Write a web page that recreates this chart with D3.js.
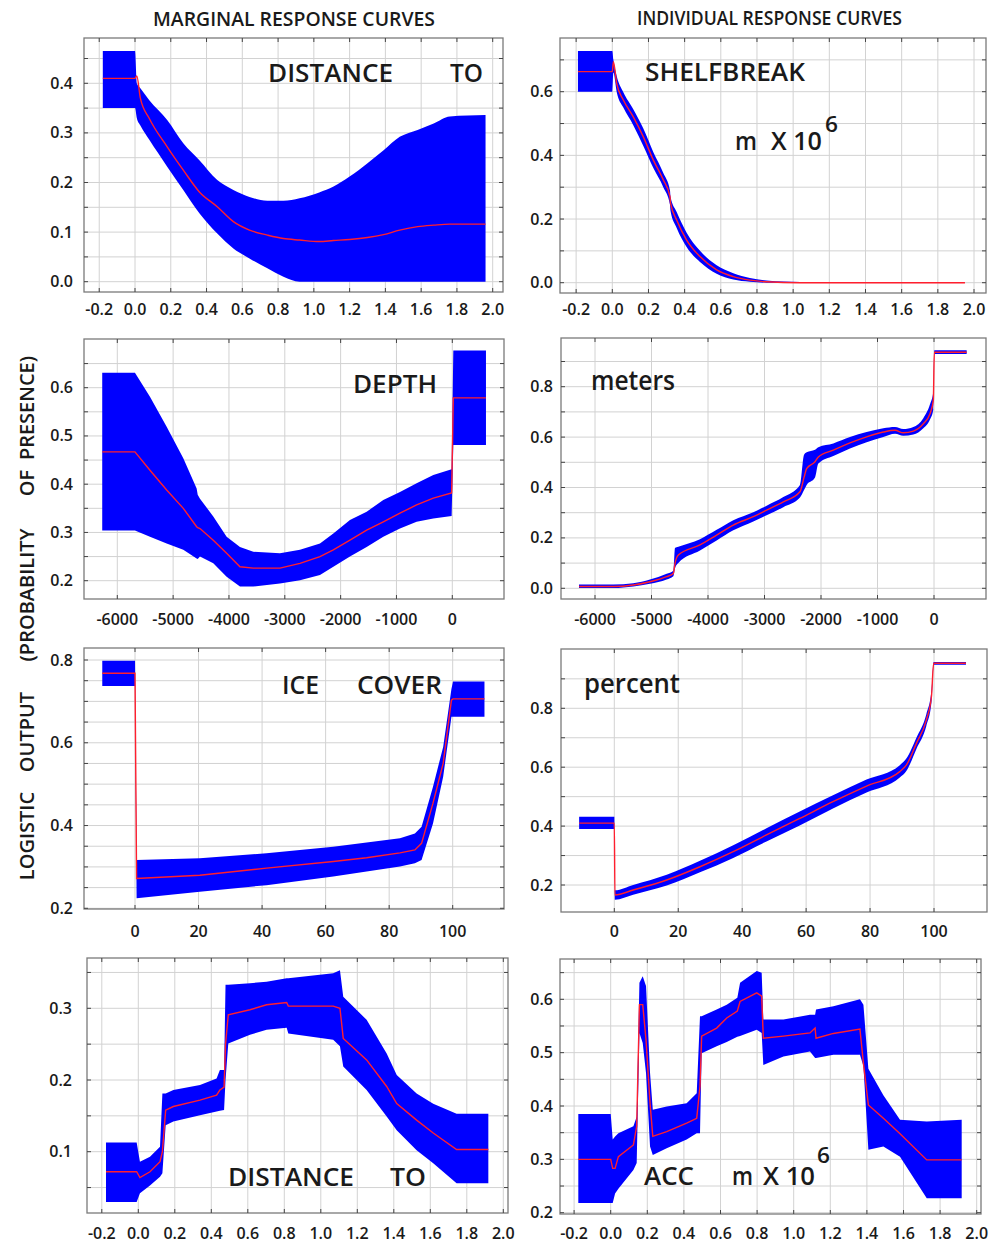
<!DOCTYPE html>
<html>
<head>
<meta charset="utf-8">
<script src="https://d3js.org/d3.v7.min.js"></script>
<style>
  body { margin: 0; background: #fff; }
  svg text { font-family: 'Open Sans', 'DejaVu Sans', sans-serif; font-weight: 600; fill: #1a1a1a; }
</style>
</head>
<body>
<svg id="chart" width="1004" height="1246"></svg>
<script>
// tick values
const distTicks = [-0.2, 0.0, 0.2, 0.4, 0.6, 0.8, 1.0, 1.2, 1.4, 1.6, 1.8, 2.0];
const depthTicks = [-6000, -5000, -4000, -3000, -2000, -1000, 0];
const iceTicks = [0, 20, 40, 60, 80, 100];

// marginal response, distance to shelfbreak
const shelfMargX = [-0.18, 0.0, 0.01, 0.03, 0.08, 0.18, 0.27, 0.36, 0.46, 0.55, 0.64, 0.74, 0.83, 0.92, 1.03, 1.11, 1.2, 1.3, 1.39, 1.48, 1.58, 1.67, 1.76, 1.96];
const shelfMargMean = [0.41, 0.41, 0.415, 0.37, 0.329, 0.272, 0.225, 0.181, 0.151, 0.121, 0.104, 0.094, 0.087, 0.084, 0.081, 0.083, 0.085, 0.089, 0.095, 0.104, 0.111, 0.114, 0.116, 0.116];
const shelfMargUpper = [0.465, 0.465, 0.40, 0.39, 0.366, 0.326, 0.279, 0.245, 0.205, 0.185, 0.171, 0.163, 0.163, 0.168, 0.18, 0.192, 0.212, 0.239, 0.265, 0.292, 0.306, 0.319, 0.333, 0.336];
const shelfMargLower = [0.35, 0.35, 0.33, 0.315, 0.286, 0.232, 0.185, 0.138, 0.097, 0.067, 0.047, 0.027, 0.01, 0.0, 0, 0, 0, 0, 0, 0, 0, 0, 0, 0];

// individual response, distance to shelfbreak
const shelfIndX = [-0.19, 0.0, 0.006, 0.024, 0.061, 0.116, 0.171, 0.227, 0.282, 0.319, 0.322, 0.356, 0.411, 0.485, 0.577, 0.669, 0.761, 0.853, 1.04, 1.3, 1.95];
const shelfIndMean = [0.663, 0.663, 0.694, 0.626, 0.574, 0.521, 0.459, 0.385, 0.323, 0.27, 0.25, 0.197, 0.134, 0.082, 0.04, 0.019, 0.008, 0.003, 0.0, 0.0, 0.0];
const shelfIndUpper = [0.728, 0.728, 0.70, 0.65, 0.598, 0.545, 0.485, 0.41, 0.345, 0.29, 0.27, 0.222, 0.157, 0.1, 0.055, 0.03, 0.015, 0.007, 0.002, 0.0, 0.0];
const shelfIndLower = [0.6, 0.6, 0.66, 0.6, 0.55, 0.495, 0.43, 0.36, 0.3, 0.245, 0.225, 0.172, 0.112, 0.065, 0.028, 0.01, 0.003, 0.0, 0.0, 0.0, 0.0];

// marginal response, depth
const depthMargX = [-6270, -5684, -5415, -5116, -4818, -4579, -4560, -4519, -4281, -4042, -3803, -3564, -3087, -2728, -2370, -2131, -1833, -1534, -1236, -937, -639, -340, -12, 18, 603];
const depthMargMean = [0.467, 0.467, 0.429, 0.388, 0.35, 0.312, 0.31, 0.308, 0.284, 0.257, 0.229, 0.226, 0.226, 0.236, 0.25, 0.264, 0.284, 0.305, 0.322, 0.34, 0.357, 0.371, 0.382, 0.579, 0.579];
const depthMargUpper = [0.631, 0.631, 0.581, 0.519, 0.454, 0.391, 0.378, 0.37, 0.333, 0.291, 0.27, 0.26, 0.257, 0.264, 0.277, 0.298, 0.326, 0.343, 0.367, 0.384, 0.402, 0.419, 0.431, 0.677, 0.677];
const depthMargLower = [0.304, 0.304, 0.291, 0.277, 0.264, 0.246, 0.245, 0.25, 0.236, 0.208, 0.188, 0.188, 0.194, 0.201, 0.212, 0.229, 0.25, 0.27, 0.291, 0.308, 0.322, 0.329, 0.334, 0.481, 0.481];

// individual response, depth
const depthIndX = [-6283, -5676, -5322, -5027, -4732, -4614, -4584, -4525, -4142, -3847, -3552, -3198, -2962, -2667, -2372, -2300, -2254, -2106, -2047, -1782, -1487, -1192, -897, -690, -543, -366, -189, -71, -12, 6, 578];
const depthIndMean = [0.007, 0.007, 0.013, 0.026, 0.046, 0.059, 0.099, 0.132, 0.172, 0.211, 0.251, 0.284, 0.31, 0.343, 0.383, 0.44, 0.475, 0.502, 0.521, 0.548, 0.577, 0.601, 0.62, 0.627, 0.617, 0.624, 0.653, 0.693, 0.746, 0.937, 0.937];
const depthIndUpper = [0.015, 0.015, 0.02, 0.035, 0.058, 0.07, 0.16, 0.165, 0.195, 0.232, 0.27, 0.302, 0.328, 0.362, 0.41, 0.53, 0.54, 0.55, 0.56, 0.575, 0.6, 0.62, 0.635, 0.64, 0.632, 0.64, 0.675, 0.73, 0.78, 0.945, 0.945];
const depthIndLower = [0.001, 0.001, 0.007, 0.018, 0.035, 0.048, 0.08, 0.1, 0.15, 0.19, 0.23, 0.265, 0.29, 0.322, 0.36, 0.39, 0.41, 0.44, 0.495, 0.525, 0.555, 0.58, 0.6, 0.613, 0.605, 0.61, 0.635, 0.67, 0.71, 0.93, 0.93];

// marginal response, ice cover
const iceMargX = [-10.3, 0, 0.5, 20.4, 41.4, 62.4, 72.9, 83.4, 88.1, 90.2, 93.8, 97, 99.6, 100.1, 110];
const iceMargMean = [0.768, 0.768, 0.272, 0.28, 0.297, 0.313, 0.322, 0.334, 0.341, 0.357, 0.454, 0.55, 0.703, 0.706, 0.706];
const iceMargUpper = [0.798, 0.798, 0.317, 0.321, 0.333, 0.349, 0.359, 0.369, 0.381, 0.397, 0.494, 0.59, 0.73, 0.748, 0.748];
const iceMargLower = [0.737, 0.737, 0.224, 0.24, 0.256, 0.277, 0.289, 0.301, 0.309, 0.317, 0.405, 0.518, 0.663, 0.663, 0.663];

// individual response, ice cover
const iceIndX = [-11, 0, 0.2, 5.9, 16.4, 26.8, 37.2, 47.6, 58, 68.4, 78.9, 89.3, 91.4, 94.5, 97.6, 99.2, 99.9, 110];
const iceIndMean = [0.41, 0.41, 0.166, 0.183, 0.217, 0.262, 0.313, 0.37, 0.426, 0.483, 0.536, 0.585, 0.608, 0.681, 0.76, 0.84, 0.953, 0.953];
const iceIndUpper = [0.432, 0.432, 0.182, 0.2, 0.235, 0.282, 0.335, 0.393, 0.45, 0.505, 0.558, 0.607, 0.63, 0.7, 0.78, 0.86, 0.957, 0.957];
const iceIndLower = [0.39, 0.39, 0.15, 0.167, 0.198, 0.243, 0.292, 0.348, 0.402, 0.46, 0.514, 0.565, 0.588, 0.662, 0.74, 0.82, 0.948, 0.948];

// marginal response, distance to ACC
const accMargX = [-0.177, -0.009, 0.009, 0.064, 0.119, 0.132, 0.15, 0.192, 0.338, 0.429, 0.447, 0.47, 0.478, 0.493, 0.612, 0.703, 0.813, 0.822, 1.068, 1.105, 1.123, 1.251, 1.361, 1.416, 1.525, 1.616, 1.744, 1.918];
const accMargMean = [0.072, 0.072, 0.064, 0.072, 0.086, 0.1, 0.158, 0.163, 0.172, 0.179, 0.186, 0.19, 0.25, 0.291, 0.298, 0.305, 0.308, 0.303, 0.303, 0.3, 0.258, 0.228, 0.191, 0.167, 0.144, 0.126, 0.103, 0.103];
const accMargUpper = [0.113, 0.113, 0.086, 0.093, 0.107, 0.181, 0.181, 0.186, 0.193, 0.202, 0.214, 0.214, 0.333, 0.333, 0.335, 0.337, 0.342, 0.342, 0.349, 0.353, 0.316, 0.284, 0.237, 0.207, 0.181, 0.167, 0.153, 0.153];
const accMargLower = [0.03, 0.03, 0.042, 0.053, 0.065, 0.07, 0.137, 0.142, 0.151, 0.156, 0.157, 0.158, 0.2, 0.251, 0.263, 0.27, 0.273, 0.265, 0.256, 0.247, 0.219, 0.186, 0.149, 0.13, 0.102, 0.084, 0.056, 0.056];

// individual response, distance to ACC
const accIndX = [-0.177, 0, 0.011, 0.024, 0.042, 0.124, 0.142, 0.157, 0.175, 0.193, 0.215, 0.23, 0.306, 0.415, 0.47, 0.488, 0.497, 0.579, 0.634, 0.692, 0.707, 0.798, 0.825, 0.834, 0.944, 1.089, 1.117, 1.122, 1.217, 1.362, 1.381, 1.408, 1.49, 1.581, 1.727, 1.918];
const accIndMean = [0.3, 0.3, 0.283, 0.283, 0.305, 0.327, 0.362, 0.59, 0.59, 0.524, 0.405, 0.343, 0.352, 0.368, 0.377, 0.437, 0.531, 0.546, 0.565, 0.578, 0.596, 0.612, 0.606, 0.527, 0.531, 0.537, 0.546, 0.527, 0.536, 0.544, 0.48, 0.402, 0.377, 0.348, 0.299, 0.299];
const accIndUpper = [0.385, 0.385, 0.337, 0.343, 0.349, 0.362, 0.38, 0.631, 0.643, 0.625, 0.462, 0.393, 0.399, 0.405, 0.424, 0.568, 0.568, 0.581, 0.59, 0.603, 0.631, 0.653, 0.65, 0.562, 0.562, 0.571, 0.571, 0.581, 0.587, 0.6, 0.59, 0.47, 0.42, 0.374, 0.371, 0.374];
const accIndLower = [0.218, 0.218, 0.218, 0.236, 0.245, 0.28, 0.293, 0.537, 0.518, 0.462, 0.324, 0.308, 0.321, 0.337, 0.349, 0.349, 0.499, 0.512, 0.52, 0.53, 0.531, 0.543, 0.537, 0.477, 0.493, 0.502, 0.49, 0.49, 0.496, 0.496, 0.475, 0.318, 0.324, 0.305, 0.227, 0.227];

const fmt1 = v => (Math.abs(v) < 1e-9 ? 0 : v).toFixed(1);
const fmtInt = v => String(v);

// layout: frame = [left, top, right, bottom]; xRef/yRef = [value, px, value, px]
const panels = [
  { x: shelfMargX, mid: shelfMargMean, hi: shelfMargUpper, lo: shelfMargLower, smooth: true,
    frame: [84, 38, 503, 292], xRef: [0, 135, 2, 492.7], yRef: [0, 281.7, 0.4, 83.3],
    xTicks: distTicks, xFmt: fmt1, xLabelY: 315,
    yGrid: d3.range(0, 0.451, 0.05), yLabels: [0, 0.1, 0.2, 0.3, 0.4], yLabelX: 73,
    notes: [{t: 'DISTANCE', x: 268, y: 82, w: 125}, {t: 'TO', x: 450, y: 82, w: 33}] },
  { x: shelfIndX, mid: shelfIndMean, hi: shelfIndUpper, lo: shelfIndLower, smooth: true,
    frame: [560, 38, 986, 293], xRef: [0, 612.3, 2, 974], yRef: [0, 282.7, 0.6, 91.7],
    xTicks: distTicks, xFmt: fmt1, xLabelY: 315,
    yGrid: d3.range(0, 0.71, 0.1), yLabels: [0, 0.2, 0.4, 0.6], yLabelX: 553,
    notes: [{t: 'SHELFBREAK', x: 645, y: 81, w: 160}, {t: 'm', x: 735, y: 150, w: 22},
            {t: 'X 10', x: 771, y: 150, w: 51}, {t: '6', x: 825, y: 132, w: 13, size: 22}] },
  { x: depthMargX, mid: depthMargMean, hi: depthMargUpper, lo: depthMargLower, smooth: false,
    frame: [84, 339, 504, 599], xRef: [-6000, 117.3, 0, 452.3], yRef: [0.2, 580.7, 0.6, 387.7],
    xTicks: depthTicks, xFmt: fmtInt, xLabelY: 625,
    yGrid: d3.range(0.2, 0.651, 0.05), yLabels: [0.2, 0.3, 0.4, 0.5, 0.6], yLabelX: 73,
    notes: [{t: 'DEPTH', x: 353, y: 393, w: 84}] },
  { x: depthIndX, mid: depthIndMean, hi: depthIndUpper, lo: depthIndLower, smooth: true,
    frame: [561, 338, 986, 599], xRef: [-6000, 595, 0, 934], yRef: [0, 588.3, 0.8, 386.7],
    xTicks: depthTicks, xFmt: fmtInt, xLabelY: 625,
    yGrid: d3.range(0, 0.91, 0.1), yLabels: [0, 0.2, 0.4, 0.6, 0.8], yLabelX: 553,
    notes: [{t: 'meters', x: 591, y: 390, w: 84, size: 27}] },
  { x: iceMargX, mid: iceMargMean, hi: iceMargUpper, lo: iceMargLower, smooth: false,
    frame: [84, 648, 504, 909], xRef: [0, 135, 100, 452.7], yRef: [0.2, 908.3, 0.8, 660],
    xTicks: iceTicks, xFmt: fmtInt, xLabelY: 937,
    yGrid: d3.range(0.2, 0.801, 0.05), yLabels: [0.2, 0.4, 0.6, 0.8], yLabelX: 73,
    notes: [{t: 'ICE', x: 282, y: 694, w: 37}, {t: 'COVER', x: 357, y: 694, w: 85}] },
  { x: iceIndX, mid: iceIndMean, hi: iceIndUpper, lo: iceIndLower, smooth: true,
    frame: [561, 649, 987, 912], xRef: [0, 614.3, 100, 934], yRef: [0.2, 885, 0.8, 708.3],
    xTicks: iceTicks, xFmt: fmtInt, xLabelY: 937,
    yGrid: d3.range(0.2, 0.91, 0.1), yLabels: [0.2, 0.4, 0.6, 0.8], yLabelX: 553,
    notes: [{t: 'percent', x: 584, y: 693, w: 96, size: 27}] },
  { x: accMargX, mid: accMargMean, hi: accMargUpper, lo: accMargLower, smooth: false,
    frame: [87, 958, 508, 1213], xRef: [0, 138.3, 2, 503.3], yRef: [0.1, 1151.7, 0.3, 1008.3],
    xTicks: distTicks, xFmt: fmt1, xLabelY: 1239,
    yGrid: d3.range(0.05, 0.351, 0.05), yLabels: [0.1, 0.2, 0.3], yLabelX: 72,
    notes: [{t: 'DISTANCE', x: 228, y: 1186, w: 126}, {t: 'TO', x: 390, y: 1186, w: 36}] },
  { x: accIndX, mid: accIndMean, hi: accIndUpper, lo: accIndLower, smooth: false,
    frame: [560, 959, 981, 1214], xRef: [0, 610.7, 2, 976.7], yRef: [0.2, 1212.7, 0.6, 999.3],
    xTicks: distTicks, xFmt: fmt1, xLabelY: 1239,
    yGrid: d3.range(0.2, 0.651, 0.05), yLabels: [0.2, 0.3, 0.4, 0.5, 0.6], yLabelX: 553,
    notes: [{t: 'ACC', x: 644, y: 1185, w: 50}, {t: 'm', x: 732, y: 1185, w: 21},
            {t: 'X 10', x: 763, y: 1185, w: 52}, {t: '6', x: 817, y: 1163, w: 13, size: 22}] }
];

const svg = d3.select('#chart');

panels.forEach(p => {
  const [fl, ft, fr, fb] = p.frame;
  const x = d3.scaleLinear().domain([p.xRef[0], p.xRef[2]]).range([p.xRef[1], p.xRef[3]]);
  const y = d3.scaleLinear().domain([p.yRef[0], p.yRef[2]]).range([p.yRef[1], p.yRef[3]]);
  const curve = p.smooth ? d3.curveMonotoneX : d3.curveLinear;
  const g = svg.append('g');

  // grid
  g.selectAll('.vg').data(p.xTicks).enter().append('line')
    .attr('x1', d => x(d)).attr('x2', d => x(d)).attr('y1', ft).attr('y2', fb)
    .attr('stroke', '#d2d2d2').attr('stroke-width', 1);
  g.selectAll('.hg').data(p.yGrid).enter().append('line')
    .attr('y1', d => y(d)).attr('y2', d => y(d)).attr('x1', fl).attr('x2', fr)
    .attr('stroke', '#d2d2d2').attr('stroke-width', 1);

  const rows = p.x.map((v, i) => ({ x: v, lo: p.lo[i], mid: p.mid[i], hi: p.hi[i] }));

  // confidence band
  g.append('path').datum(rows)
    .attr('d', d3.area().curve(curve)
      .x(d => x(d.x)).y0(d => y(d.lo)).y1(d => y(d.hi)))
    .attr('fill', '#0000ff');

  // mean response
  g.append('path').datum(rows)
    .attr('d', d3.line().curve(curve).x(d => x(d.x)).y(d => y(d.mid)))
    .attr('fill', 'none').attr('stroke', '#ff1f2e').attr('stroke-width', 1.4);

  // frame
  g.append('rect').attr('x', fl).attr('y', ft).attr('width', fr - fl).attr('height', fb - ft)
    .attr('fill', 'none').attr('stroke', '#7a7a7a').attr('stroke-width', 1.3);

  // ticks (inward)
  p.xTicks.forEach(v => {
    g.append('line').attr('x1', x(v)).attr('x2', x(v)).attr('y1', fb).attr('y2', fb - 4).attr('stroke', '#444');
    g.append('line').attr('x1', x(v)).attr('x2', x(v)).attr('y1', ft).attr('y2', ft + 4).attr('stroke', '#444');
  });
  p.yGrid.forEach(v => {
    g.append('line').attr('y1', y(v)).attr('y2', y(v)).attr('x1', fl).attr('x2', fl + 4).attr('stroke', '#444');
    g.append('line').attr('y1', y(v)).attr('y2', y(v)).attr('x1', fr).attr('x2', fr - 4).attr('stroke', '#444');
  });

  // tick labels
  g.selectAll('.xl').data(p.xTicks).enter().append('text')
    .attr('x', d => x(d)).attr('y', p.xLabelY)
    .attr('text-anchor', 'middle').attr('font-size', 16).attr('font-weight', 700)
    .text(d => p.xFmt(d));
  g.selectAll('.yl').data(p.yLabels).enter().append('text')
    .attr('x', p.yLabelX).attr('y', d => y(d) + 5.5)
    .attr('text-anchor', 'end').attr('font-size', 16).attr('font-weight', 700)
    .text(d => fmt1(d));

  // variable names inside the panel
  p.notes.forEach(n => {
    g.append('text').attr('x', n.x).attr('y', n.y)
      .attr('font-size', n.size || 26)
      .attr('textLength', n.w).attr('lengthAdjust', 'spacingAndGlyphs')
      .text(n.t);
  });
});

// column titles
[{t: 'MARGINAL RESPONSE CURVES', x: 153, y: 26, w: 282},
 {t: 'INDIVIDUAL RESPONSE CURVES', x: 637, y: 25, w: 265}].forEach(d => {
  svg.append('text').attr('x', d.x).attr('y', d.y).attr('font-size', 20)
    .attr('textLength', d.w).attr('lengthAdjust', 'spacingAndGlyphs').text(d.t);
});

// shared y-axis title, one word at a time
const yTitleWords = ['LOGISTIC', 'OUTPUT', '(PROBABILITY', 'OF', 'PRESENCE)'];
const yTitleCenters = [836, 732, 595, 483, 408];
yTitleWords.forEach((w, i) => {
  svg.append('text')
    .attr('transform', `translate(26,${yTitleCenters[i]}) rotate(-90)`)
    .attr('text-anchor', 'middle').attr('dominant-baseline', 'central')
    .attr('font-size', 20)
    .text(w);
});
</script>
</body>
</html>
